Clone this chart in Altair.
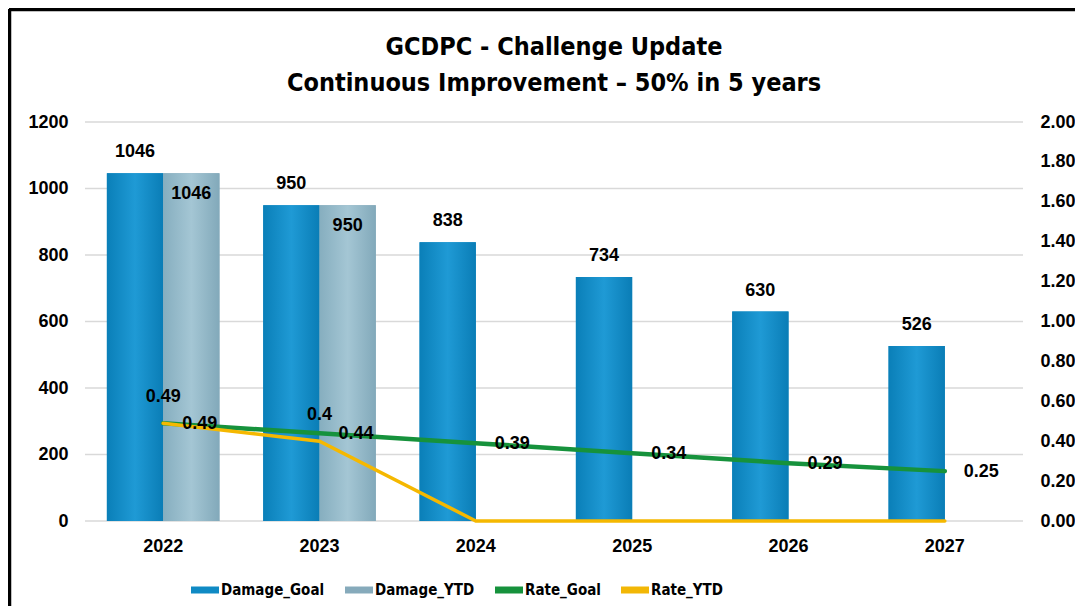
import altair as alt
import pandas as pd

# ---- data ----
years = ["2022", "2023", "2024", "2025", "2026", "2027"]
damage_goal = [1046, 950, 838, 734, 630, 526]
damage_ytd_years = ["2022", "2023"]
damage_ytd = [1046, 950]
rate_goal = [0.49, 0.44, 0.39, 0.34, 0.29, 0.25]
rate_ytd = [0.49, 0.40, 0, 0, 0, 0]

series_names = ["Damage_Goal", "Damage_YTD", "Rate_Goal", "Rate_YTD"]
series_colors = ["#0f8ac4", "#86aabb", "#16923c", "#f2b705"]
left_ticks = [0, 200, 400, 600, 800, 1000, 1200]
right_ticks = [0, 0.2, 0.4, 0.6, 0.8, 1.0, 1.2, 1.4, 1.6, 1.8, 2.0]
title_lines = ["GCDPC - Challenge Update", "Continuous Improvement \u2013 50% in 5 years"]

bars = pd.DataFrame({
    "year": years + damage_ytd_years,
    "series": ["Damage_Goal"] * len(years) + ["Damage_YTD"] * len(damage_ytd_years),
    "value": damage_goal + damage_ytd,
})
rates = pd.DataFrame({
    "year": years * 2,
    "series": ["Rate_Goal"] * len(years) + ["Rate_YTD"] * len(years),
    "value": rate_goal + rate_ytd,
})
grid_df = pd.DataFrame({"value": left_ticks})

NUM_FONT = "Liberation Sans"
COND_FONT = "DejaVu Sans Condensed"

grad_goal = {"gradient": "linear", "x1": 0, "x2": 1, "y1": 0, "y2": 0,
             "stops": [{"offset": 0, "color": "#0a7fb8"},
                       {"offset": 0.5, "color": "#1f9ad5"},
                       {"offset": 1, "color": "#0a7db6"}]}
grad_ytd = {"gradient": "linear", "x1": 0, "x2": 1, "y1": 0, "y2": 0,
            "stops": [{"offset": 0, "color": "#86aebf"},
                      {"offset": 0.5, "color": "#a4c6d4"},
                      {"offset": 1, "color": "#82a9ba"}]}

X = alt.X("year:N", sort=years,
          scale=alt.Scale(paddingInner=0.28, paddingOuter=0.14),
          axis=alt.Axis(title=None, labelAngle=0, domain=False, ticks=False,
                        labelPadding=16, labelFont=NUM_FONT, labelFontSize=18,
                        labelFontWeight="bold", labelColor="#000"))
XO = alt.XOffset("series:N",
                 scale=alt.Scale(domain=["Damage_Goal", "Damage_YTD"], paddingInner=0, paddingOuter=0))
YL = alt.Y("value:Q", scale=alt.Scale(domain=[0, 1200], nice=False),
           axis=alt.Axis(title=None, values=left_ticks, format="d", grid=False,
                         domain=False, ticks=False, labelPadding=17,
                         labelFont=NUM_FONT, labelFontSize=18, labelFontWeight="bold",
                         labelColor="#000"))

# horizontal gridlines at the left-axis ticks
grid = alt.Chart(grid_df).mark_rule(color="#d9d9d9", strokeWidth=1.5).encode(y=YL)

base_b = alt.Chart(bars)

bars_flat = base_b.mark_bar().encode(
    x=X, xOffset=XO, y=YL,
    color=alt.Color("series:N",
                    scale=alt.Scale(domain=series_names, range=series_colors),
                    legend=alt.Legend(title=None, orient="none", legendX=106, legendY=454,
                                      direction="horizontal", columns=4,
                                      symbolType="M-1,-0.25H1V0.25H-1Z", symbolSize=784,
                                      symbolStrokeWidth=0,
                                      labelFont=COND_FONT, labelFontSize=15,
                                      labelFontWeight="bold", labelColor="#000",
                                      columnPadding=20, labelOffset=2)),
)
bars_goal_g = base_b.transform_filter("datum.series == 'Damage_Goal'").mark_bar(fill=grad_goal).encode(
    x=X, xOffset=XO, y=YL)
bars_ytd_g = base_b.transform_filter("datum.series == 'Damage_YTD'").mark_bar(fill=grad_ytd).encode(
    x=X, xOffset=XO, y=YL)

lbl_goal = base_b.transform_filter("datum.series == 'Damage_Goal'").mark_text(
    baseline="middle", dy=-21, font=NUM_FONT, fontSize=18, fontWeight="bold", color="#000"
).encode(x=X, xOffset=XO, y=YL, text=alt.Text("value:Q", format="d"))
lbl_ytd = base_b.transform_filter("datum.series == 'Damage_YTD'").mark_text(
    baseline="middle", dy=21, font=NUM_FONT, fontSize=18, fontWeight="bold", color="#000"
).encode(x=X, xOffset=XO, y=YL, text=alt.Text("value:Q", format="d"))

frame_df = pd.DataFrame({"k": [0]})
frame_left = alt.Chart(frame_df).mark_rule(color="#000", strokeWidth=4.5).encode(
    x=alt.value(-76), y=alt.value(-113), y2=alt.value(620))
frame_top = alt.Chart(frame_df).mark_rule(color="#000", strokeWidth=4.5).encode(
    x=alt.value(-76), x2=alt.value(1100), y=alt.value(-113))

YR = alt.Y("value:Q", scale=alt.Scale(domain=[0, 2], nice=False),
           axis=alt.Axis(title=None, orient="right", values=right_ticks, format=".2f",
                         grid=False, domain=False, ticks=False, labelPadding=17,
                         labelFont=NUM_FONT, labelFontSize=18, labelFontWeight="bold",
                         labelColor="#000"))

base_r = alt.Chart(rates)
line_goal = base_r.transform_filter("datum.series == 'Rate_Goal'").mark_line(
    stroke="#16923c", strokeWidth=4.5, strokeCap="round").encode(x=X, y=YR)
line_ytd = base_r.transform_filter("datum.series == 'Rate_YTD'").mark_line(
    stroke="#f5b800", strokeWidth=3.5, strokeCap="round").encode(x=X, y=YR)
lbl_rgoal = base_r.transform_filter("datum.series == 'Rate_Goal'").mark_text(
    align="left", baseline="middle", dx=19, dy=1, font=NUM_FONT, fontSize=18,
    fontWeight="bold", color="#000").encode(x=X, y=YR, text=alt.Text("value:Q", format=""))
lbl_rytd = base_r.transform_filter("datum.series == 'Rate_YTD' && datum.value > 0").mark_text(
    align="center", baseline="middle", dy=-26, font=NUM_FONT, fontSize=18,
    fontWeight="bold", color="#000").encode(x=X, y=YR, text=alt.Text("value:Q", format=""))

left = alt.layer(grid, bars_flat, bars_goal_g, bars_ytd_g, lbl_goal, lbl_ytd, frame_left, frame_top)
right = alt.layer(line_goal, line_ytd, lbl_rgoal, lbl_rytd)

chart = alt.layer(left, right).resolve_scale(y="independent").properties(
    width=938, height=399,
    autosize=alt.AutoSizeParams(type="none"),
    padding={"left": 77, "top": 114, "right": 52, "bottom": 85},
    background="white",
    title=alt.Title(title_lines, font=COND_FONT, fontSize=25, fontWeight="bold",
                    color="#000", anchor="middle", offset=0, dy=89, lineHeight=36),
).configure_view(strokeWidth=0)

chart.save("out.html", embed_options={"renderer": "svg", "actions": False})
